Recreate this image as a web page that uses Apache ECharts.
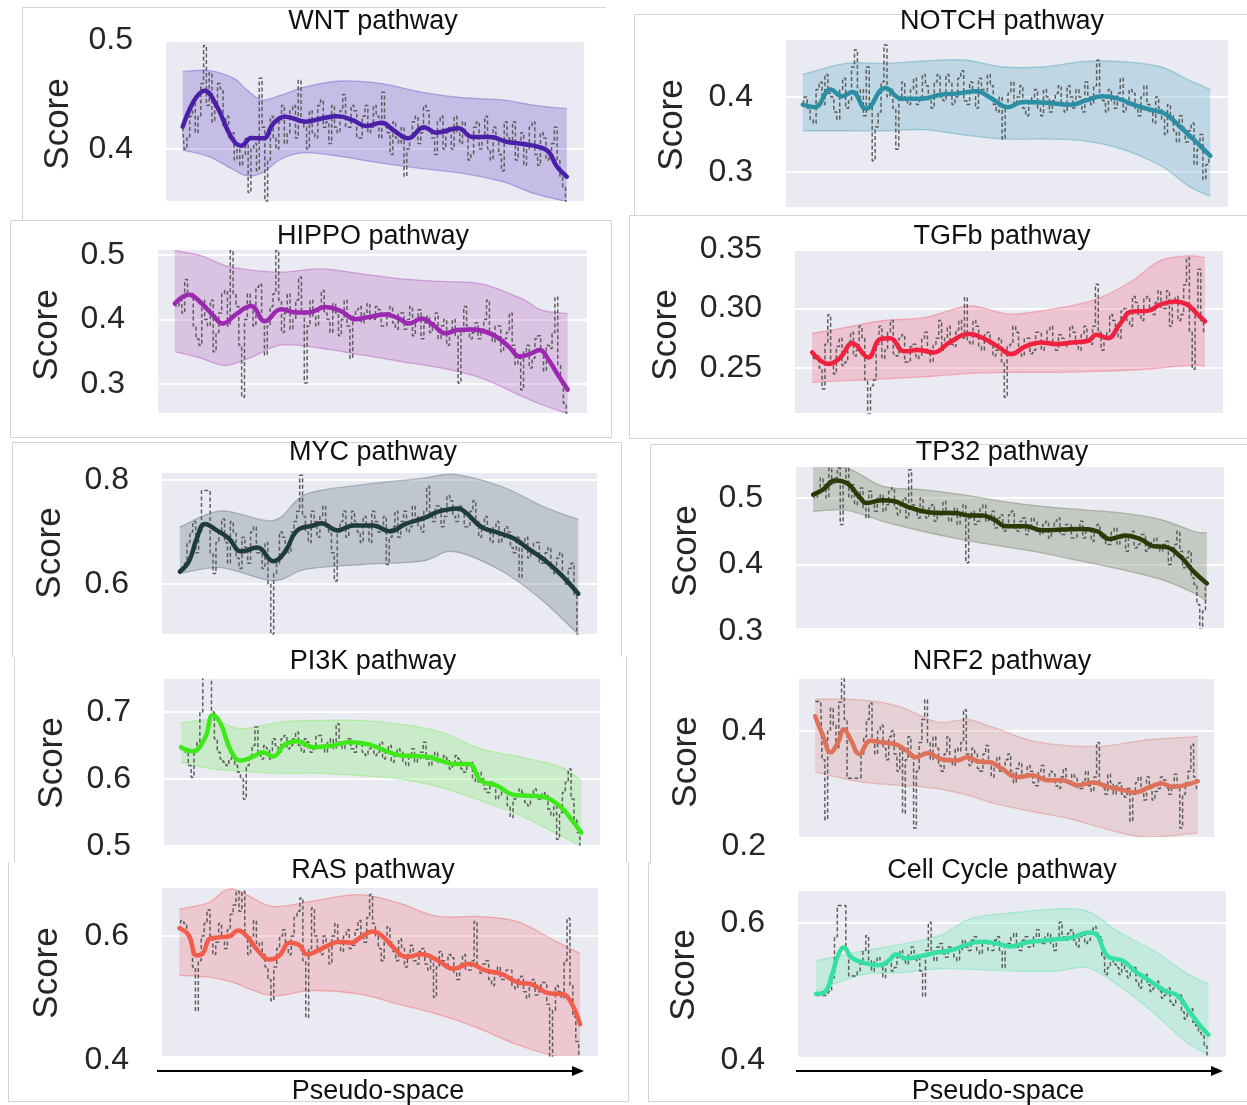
<!DOCTYPE html>
<html>
<head>
<meta charset="utf-8">
<title>Pathway scores along pseudo-space</title>
<script src="https://cdn.jsdelivr.net/npm/echarts@6/dist/echarts.min.js"></script>
<style>
  html, body { margin: 0; padding: 0; background: #ffffff; }
  #chart { width: 1247px; height: 1105px; }
</style>
</head>
<body>
<div id="chart"></div>
<script>
// ---------------- data ----------------
// mean curves: [pseudo-space %, score]; bands: [pseudo-space %, lower, upper]; raw scores: evenly spaced along the mean's span
const wntMean = [[4.0,0.4205],[9.3,0.4535],[12.2,0.439],[15.6,0.411],[18.0,0.403],[20.4,0.410],[23.3,0.4098],[25.7,0.4235],[28.6,0.4297],[33.4,0.425],[37.2,0.428],[41.1,0.430],[44.9,0.426],[47.8,0.421],[51.6,0.424],[54.5,0.417],[57.9,0.4098],[61.7,0.420],[64.6,0.415],[69.9,0.419],[73.3,0.411],[77.6,0.411],[81.4,0.4067],[85.3,0.4046],[89.1,0.402],[91.5,0.3976],[93.5,0.384],[95.9,0.3746]];
const wntBand = [[4.0,0.399,0.471],[10.3,0.393,0.472],[16.1,0.381,0.465],[19.4,0.3755,0.454],[23.0,0.378,0.445],[27.6,0.391,0.4495],[33.4,0.3966,0.457],[42.0,0.393,0.4624],[51.6,0.387,0.460],[61.3,0.382,0.452],[70.9,0.3777,0.447],[80.5,0.370,0.445],[88.2,0.359,0.440],[95.9,0.3517,0.437]];
const wntRaw = [
  0.42,0.40,0.41,0.43,0.445,0.415,0.43,0.46,0.495,0.44,
  0.47,0.425,0.44,0.46,0.455,0.42,0.43,0.41,0.415,0.39,
  0.40,0.385,0.395,0.41,0.36,0.40,0.405,0.38,0.465,0.42,
  0.352,0.39,0.43,0.41,0.40,0.425,0.44,0.405,0.415,0.435,
  0.44,0.41,0.463,0.425,0.42,0.40,0.435,0.415,0.41,0.44,
  0.445,0.42,0.425,0.405,0.44,0.42,0.415,0.435,0.45,0.42,
  0.42,0.44,0.435,0.41,0.41,0.43,0.44,0.415,0.42,0.44,
  0.43,0.41,0.452,0.42,0.415,0.395,0.425,0.41,0.405,0.42,
  0.375,0.40,0.41,0.425,0.43,0.405,0.415,0.44,0.435,0.415,
  0.41,0.395,0.425,0.43,0.40,0.415,0.42,0.40,0.43,0.415,
  0.405,0.425,0.415,0.39,0.395,0.42,0.425,0.40,0.41,0.43,
  0.40,0.39,0.42,0.41,0.395,0.38,0.425,0.41,0.405,0.425,
  0.39,0.405,0.415,0.385,0.40,0.42,0.425,0.395,0.385,0.415,
  0.41,0.39,0.395,0.405,0.42,0.39,0.375,0.365,0.352];

const notchMean = [[3.8,0.3897],[6.5,0.3865],[10.1,0.410],[12.7,0.401],[15.0,0.4067],[18.1,0.3843],[22.5,0.412],[26.1,0.3978],[30.5,0.3978],[35.0,0.403],[38.6,0.4045],[43.0,0.4076],[46.6,0.3978],[50.1,0.3865],[53.7,0.3933],[59.0,0.3924],[64.4,0.3897],[67.9,0.3955],[71.5,0.401],[75.1,0.3978],[78.6,0.3897],[83.1,0.382],[85.8,0.3776],[89.3,0.3596],[92.9,0.3395],[96.0,0.3215]];
const notchBand = [[3.8,0.355,0.430],[13.6,0.355,0.4448],[22.5,0.355,0.4448],[31.4,0.3565,0.448],[40.3,0.3493,0.4493],[49.2,0.344,0.440],[58.1,0.344,0.440],[67.1,0.3417,0.4471],[76.0,0.3305,0.4471],[84.9,0.308,0.440],[91.1,0.2812,0.4224],[96.0,0.2677,0.410]];
const notchRaw = [
  0.39,0.40,0.385,0.37,0.365,0.41,0.42,0.39,0.43,0.405,
  0.40,0.38,0.37,0.41,0.425,0.385,0.395,0.44,0.463,0.40,
  0.41,0.375,0.44,0.39,0.315,0.36,0.38,0.42,0.4695,0.40,
  0.41,0.385,0.3305,0.40,0.42,0.395,0.39,0.41,0.425,0.39,
  0.40,0.43,0.415,0.395,0.385,0.42,0.43,0.40,0.395,0.43,
  0.42,0.39,0.40,0.425,0.435,0.395,0.39,0.42,0.41,0.385,
  0.425,0.41,0.40,0.43,0.415,0.39,0.38,0.40,0.344,0.385,
  0.405,0.42,0.39,0.40,0.415,0.385,0.375,0.395,0.40,0.41,
  0.385,0.375,0.41,0.40,0.38,0.395,0.405,0.415,0.39,0.38,
  0.415,0.40,0.385,0.41,0.40,0.38,0.42,0.40,0.39,0.415,
  0.449,0.40,0.395,0.38,0.41,0.395,0.385,0.405,0.425,0.38,
  0.39,0.41,0.405,0.385,0.375,0.40,0.415,0.39,0.38,0.365,
  0.40,0.385,0.37,0.35,0.39,0.375,0.355,0.34,0.375,0.36,
  0.34,0.355,0.365,0.31,0.33,0.35,0.29,0.31,0.325];

const hippoMean = [[3.9,0.4246],[7.2,0.4385],[10.0,0.426],[12.8,0.4067],[15.1,0.3938],[18.4,0.4092],[21.7,0.421],[24.9,0.3974],[28.7,0.4159],[32.4,0.4108],[35.2,0.4108],[39.0,0.4195],[42.7,0.4128],[46.0,0.4005],[49.3,0.4041],[53.0,0.4077],[55.8,0.4026],[58.6,0.3938],[61.4,0.4015],[64.2,0.3913],[67.0,0.3785],[69.8,0.3836],[73.1,0.3846],[76.4,0.381],[79.2,0.3718],[82.0,0.3564],[84.3,0.3426],[86.6,0.3462],[89.0,0.3528],[90.8,0.340],[93.2,0.3144],[95.5,0.2913]];
const hippoBand = [[3.9,0.3503,0.5067],[10.0,0.34,0.499],[15.6,0.3287,0.4836],[21.3,0.34,0.4769],[28.7,0.3605,0.4733],[38.0,0.3554,0.4785],[47.4,0.3451,0.4708],[56.7,0.3349,0.4631],[66.1,0.3246,0.459],[75.4,0.3092,0.4554],[84.8,0.281,0.4323],[89.4,0.2682,0.4144],[95.5,0.2538,0.4092]];
const hippoRaw = [
  0.425,0.42,0.43,0.41,0.462,0.44,0.44,0.39,0.37,0.36,
  0.43,0.40,0.39,0.43,0.35,0.38,0.41,0.44,0.445,0.39,
  0.507,0.44,0.42,0.36,0.2795,0.40,0.44,0.42,0.39,0.45,
  0.455,0.40,0.345,0.39,0.42,0.44,0.507,0.43,0.38,0.41,
  0.44,0.385,0.40,0.43,0.4656,0.41,0.3015,0.39,0.43,0.405,
  0.39,0.42,0.445,0.41,0.40,0.38,0.425,0.41,0.375,0.40,
  0.43,0.39,0.34,0.405,0.415,0.42,0.395,0.41,0.425,0.40,
  0.40,0.42,0.415,0.39,0.39,0.41,0.42,0.395,0.385,0.41,
  0.41,0.385,0.40,0.42,0.375,0.40,0.415,0.37,0.395,0.405,
  0.38,0.395,0.41,0.37,0.39,0.40,0.36,0.385,0.40,0.375,
  0.3015,0.38,0.42,0.39,0.37,0.38,0.395,0.37,0.385,0.40,
  0.43,0.38,0.365,0.39,0.39,0.35,0.37,0.38,0.41,0.36,
  0.33,0.34,0.291,0.35,0.36,0.325,0.34,0.37,0.375,0.35,
  0.32,0.36,0.355,0.38,0.435,0.33,0.30,0.27,0.254];

const tgfbMean = [[4.0,0.2631],[7.9,0.2534],[10.6,0.2589],[13.4,0.2707],[17.1,0.2589],[19.9,0.2743],[22.2,0.2751],[25.5,0.264],[28.7,0.2651],[32.4,0.2631],[36.1,0.2715],[40.7,0.2785],[44.4,0.2743],[47.7,0.2673],[50.5,0.2617],[53.7,0.2679],[57.4,0.2715],[61.1,0.2701],[64.8,0.2715],[68.5,0.2729],[70.4,0.2779],[73.1,0.2751],[75.9,0.2869],[78.7,0.2975],[82.4,0.298],[85.2,0.3031],[88.9,0.3059],[91.7,0.3031],[94.0,0.2953],[95.8,0.2891]];
const tgfbBand = [[4.0,0.238,0.279],[12.0,0.2394,0.2841],[20.4,0.2408,0.2897],[30.6,0.2427,0.2925],[40.7,0.2455,0.3022],[50.0,0.2464,0.2953],[60.2,0.2464,0.2994],[70.4,0.2472,0.3078],[78.7,0.2483,0.3232],[85.2,0.25,0.34],[91.7,0.252,0.3441],[95.8,0.252,0.3427]];
const tgfbRaw = [
  0.265,0.258,0.26,0.25,0.2324,0.27,0.2947,0.255,0.245,0.268,
  0.275,0.252,0.255,0.272,0.28,0.26,0.265,0.285,0.275,0.24,
  0.2115,0.235,0.24,0.27,0.285,0.258,0.265,0.28,0.29,0.262,
  0.26,0.275,0.278,0.255,0.255,0.268,0.27,0.258,0.26,0.275,
  0.28,0.262,0.255,0.27,0.275,0.29,0.265,0.275,0.285,0.27,
  0.268,0.282,0.29,0.275,0.3092,0.272,0.27,0.29,0.285,0.268,
  0.265,0.278,0.28,0.27,0.26,0.265,0.275,0.255,0.2254,0.268,
  0.27,0.285,0.28,0.268,0.26,0.275,0.275,0.262,0.265,0.28,
  0.28,0.265,0.27,0.282,0.285,0.27,0.265,0.278,0.275,0.268,
  0.27,0.285,0.28,0.27,0.265,0.278,0.285,0.272,0.27,0.285,
  0.3204,0.28,0.265,0.275,0.28,0.295,0.29,0.285,0.275,0.298,
  0.30,0.29,0.285,0.31,0.305,0.295,0.29,0.308,0.31,0.298,
  0.295,0.305,0.315,0.30,0.30,0.315,0.285,0.305,0.31,0.29,
  0.295,0.32,0.3427,0.28,0.249,0.30,0.333,0.29,0.28];

const mycMean = [[4.1,0.6238],[6.2,0.6438],[8.0,0.6875],[9.9,0.7156],[12.6,0.7031],[15.4,0.6875],[18.2,0.6625],[21.9,0.67],[25.6,0.6438],[28.3,0.6625],[31.1,0.7031],[34.8,0.7125],[36.6,0.7169],[40.3,0.7031],[44.0,0.7125],[48.6,0.7125],[52.3,0.7013],[56.0,0.7156],[60.6,0.7281],[63.4,0.7388],[68.0,0.745],[69.8,0.7375],[73.5,0.7094],[77.2,0.6988],[80.9,0.6875],[84.6,0.6656],[88.3,0.6438],[92.0,0.6156],[95.7,0.5813]];
const mycBand = [[4.1,0.62,0.7094],[13.6,0.6313,0.7406],[25.6,0.6063,0.7219],[32.9,0.6281,0.7719],[45.8,0.6375,0.7906],[59.7,0.6438,0.8031],[67.1,0.6625,0.811],[78.1,0.625,0.7875],[87.4,0.5688,0.75],[95.7,0.5031,0.7238]];
const mycRaw = [
  0.62,0.625,0.64,0.68,0.70,0.72,0.66,0.70,0.78,0.78,
  0.78,0.66,0.62,0.68,0.70,0.725,0.68,0.64,0.72,0.70,
  0.65,0.63,0.69,0.67,0.64,0.70,0.71,0.66,0.66,0.63,
  0.68,0.60,0.503,0.62,0.64,0.70,0.69,0.67,0.66,0.70,
  0.72,0.74,0.809,0.73,0.70,0.68,0.74,0.72,0.69,0.73,
  0.75,0.71,0.70,0.66,0.606,0.70,0.72,0.74,0.69,0.71,
  0.74,0.72,0.70,0.68,0.73,0.71,0.68,0.74,0.72,0.70,
  0.70,0.73,0.6375,0.69,0.71,0.74,0.69,0.72,0.74,0.70,
  0.71,0.75,0.73,0.71,0.70,0.74,0.7875,0.73,0.72,0.75,
  0.75,0.71,0.73,0.77,0.76,0.73,0.72,0.75,0.74,0.71,
  0.71,0.74,0.76,0.72,0.69,0.71,0.73,0.70,0.68,0.71,
  0.72,0.68,0.69,0.71,0.70,0.67,0.66,0.69,0.6125,0.67,
  0.69,0.65,0.66,0.68,0.68,0.64,0.64,0.66,0.67,0.63,
  0.62,0.65,0.66,0.61,0.60,0.63,0.64,0.58,0.503];

const tp32Mean = [[4.0,0.505],[6.3,0.5125],[9.1,0.5265],[11.9,0.5225],[14.7,0.5025],[16.5,0.4925],[20.3,0.4965],[23.0,0.495],[25.8,0.4875],[29.6,0.48],[33.3,0.4775],[37.0,0.4775],[40.7,0.4735],[43.5,0.4735],[46.3,0.4675],[49.1,0.4575],[53.7,0.4575],[57.4,0.4515],[62.1,0.4525],[66.7,0.4535],[70.4,0.45],[73.2,0.4385],[77.0,0.4435],[80.7,0.4375],[83.5,0.4275],[86.2,0.4265],[89.9,0.4115],[92.8,0.39],[96.0,0.3715]];
const tp32Band = [[4.0,0.48,0.5475],[11.9,0.4815,0.545],[20.3,0.465,0.5175],[29.6,0.45,0.5125],[38.8,0.4375,0.505],[48.1,0.4275,0.495],[57.4,0.4175,0.4875],[66.7,0.405,0.4825],[76.0,0.3925,0.4775],[85.3,0.3775,0.4675],[92.8,0.3575,0.45],[96.0,0.345,0.4475]];
const tp32Raw = [
  0.505,0.50,0.51,0.53,0.52,0.50,0.545,0.52,0.53,0.545,
  0.46,0.52,0.545,0.50,0.52,0.49,0.50,0.515,0.485,0.47,
  0.51,0.495,0.48,0.50,0.505,0.48,0.49,0.51,0.515,0.485,
  0.475,0.49,0.50,0.47,0.5425,0.49,0.485,0.47,0.50,0.48,
  0.47,0.485,0.49,0.465,0.48,0.475,0.495,0.48,0.465,0.475,
  0.485,0.46,0.475,0.49,0.4025,0.47,0.48,0.46,0.465,0.485,
  0.49,0.465,0.47,0.48,0.455,0.47,0.475,0.45,0.46,0.475,
  0.48,0.455,0.45,0.465,0.47,0.445,0.455,0.47,0.465,0.45,
  0.445,0.46,0.465,0.44,0.45,0.465,0.47,0.445,0.445,0.46,
  0.46,0.44,0.44,0.455,0.465,0.44,0.45,0.455,0.435,0.45,
  0.46,0.44,0.445,0.43,0.43,0.45,0.455,0.43,0.44,0.445,
  0.42,0.44,0.45,0.425,0.43,0.445,0.445,0.42,0.425,0.435,
  0.44,0.425,0.42,0.43,0.435,0.40,0.41,0.43,0.45,0.42,
  0.395,0.41,0.42,0.38,0.37,0.34,0.3025,0.33,0.37];

const pi3kMean = [[3.9,0.6475],[6.6,0.6415],[9.4,0.6615],[11.2,0.695],[13.0,0.6825],[15.3,0.6425],[17.6,0.6275],[20.4,0.6335],[22.7,0.64],[25.0,0.6335],[27.7,0.6515],[30.5,0.6565],[34.2,0.6475],[38.8,0.65],[42.4,0.655],[47.0,0.6515],[50.7,0.6425],[54.4,0.635],[59.9,0.6335],[63.5,0.6275],[66.3,0.6225],[69.9,0.6225],[72.7,0.5975],[76.4,0.59],[80.1,0.5765],[83.7,0.575],[87.4,0.5725],[91.1,0.5575],[93.4,0.54],[95.7,0.52]];
const pi3kBand = [[3.9,0.625,0.6835],[11.2,0.615,0.6885],[17.6,0.6115,0.675],[26.8,0.6085,0.685],[36.0,0.6085,0.6875],[45.2,0.605,0.6875],[54.4,0.6,0.6815],[63.5,0.5875,0.67],[72.7,0.5675,0.645],[81.9,0.545,0.6325],[91.1,0.515,0.6175],[95.7,0.50,0.5975]];
const pi3kRaw = [
  0.65,0.645,0.64,0.62,0.6025,0.64,0.655,0.70,0.76,0.76,
  0.76,0.70,0.66,0.64,0.63,0.625,0.62,0.63,0.64,0.62,
  0.61,0.60,0.57,0.62,0.635,0.65,0.6775,0.64,0.63,0.65,
  0.645,0.63,0.66,0.65,0.64,0.66,0.665,0.645,0.65,0.66,
  0.67,0.65,0.64,0.66,0.655,0.64,0.645,0.665,0.665,0.65,
  0.64,0.655,0.66,0.645,0.6825,0.65,0.645,0.655,0.66,0.645,
  0.64,0.65,0.655,0.64,0.635,0.645,0.65,0.635,0.64,0.655,
  0.63,0.64,0.65,0.625,0.635,0.645,0.64,0.625,0.62,0.635,
  0.645,0.625,0.63,0.64,0.655,0.63,0.62,0.635,0.64,0.625,
  0.625,0.635,0.63,0.615,0.62,0.635,0.63,0.615,0.61,0.62,
  0.625,0.60,0.595,0.61,0.60,0.585,0.58,0.595,0.59,0.57,
  0.575,0.585,0.58,0.56,0.5425,0.57,0.575,0.585,0.58,0.565,
  0.56,0.575,0.585,0.57,0.57,0.58,0.575,0.555,0.545,0.56,
  0.51,0.55,0.58,0.595,0.615,0.57,0.54,0.52,0.50];

const nrf2Mean = [[3.9,0.4257],[5.8,0.3914],[7.6,0.3629],[9.4,0.38],[10.8,0.4029],[12.6,0.3829],[14.5,0.36],[17.2,0.3829],[20.4,0.38],[23.2,0.3771],[25.9,0.3657],[28.2,0.3543],[31.0,0.3617],[34.2,0.3514],[37.9,0.3486],[40.6,0.3543],[43.4,0.3469],[46.1,0.3457],[48.9,0.3343],[52.5,0.32],[56.2,0.3229],[59.9,0.3143],[63.5,0.3143],[67.2,0.3057],[70.9,0.3103],[74.5,0.3029],[78.2,0.2971],[80.9,0.2931],[84.6,0.3029],[87.4,0.3086],[90.1,0.3029],[92.9,0.3057],[96.1,0.3126]];
const nrf2Band = [[3.9,0.3286,0.4554],[14.9,0.3114,0.4543],[24.1,0.3057,0.4429],[33.3,0.30,0.4154],[40.6,0.2886,0.42],[47.0,0.2743,0.4057],[56.2,0.26,0.3829],[65.4,0.2474,0.3743],[74.5,0.2286,0.3743],[83.7,0.2154,0.3846],[96.1,0.2229,0.3903]];
const nrf2Raw = [
  0.4514,0.4514,0.4514,0.35,0.2457,0.40,0.44,0.41,0.37,0.45,
  0.50,0.42,0.318,0.318,0.318,0.318,0.318,0.36,0.39,0.42,
  0.4486,0.38,0.36,0.40,0.41,0.37,0.35,0.39,0.40,0.36,
  0.33,0.37,0.2571,0.35,0.39,0.36,0.2314,0.33,0.38,0.42,
  0.4543,0.38,0.35,0.39,0.37,0.34,0.33,0.36,0.39,0.35,
  0.34,0.37,0.365,0.38,0.4371,0.36,0.34,0.37,0.36,0.335,
  0.33,0.36,0.375,0.345,0.32,0.34,0.355,0.33,0.335,0.35,
  0.36,0.33,0.31,0.335,0.345,0.32,0.32,0.34,0.33,0.31,
  0.305,0.33,0.34,0.315,0.315,0.33,0.325,0.305,0.30,0.32,
  0.335,0.31,0.31,0.325,0.32,0.30,0.30,0.315,0.33,0.305,
  0.295,0.32,0.38,0.31,0.30,0.29,0.325,0.31,0.29,0.305,
  0.31,0.29,0.285,0.30,0.2429,0.29,0.31,0.32,0.295,0.28,
  0.32,0.30,0.28,0.295,0.30,0.32,0.315,0.30,0.29,0.305,
  0.325,0.30,0.2314,0.29,0.31,0.33,0.3771,0.32,0.30];

const rasMean = [[4.0,0.6125],[6.1,0.6016],[7.9,0.569],[9.3,0.5717],[11.1,0.5962],[13.3,0.5978],[15.6,0.60],[17.4,0.6087],[19.7,0.5978],[21.9,0.5772],[24.7,0.562],[27.0,0.569],[29.2,0.5891],[31.5,0.5853],[33.3,0.5701],[35.1,0.5745],[37.8,0.5837],[40.6,0.5908],[43.3,0.5891],[46.0,0.60],[48.3,0.6071],[50.5,0.60],[53.3,0.5799],[56.0,0.5663],[59.6,0.5707],[63.2,0.5609],[66.9,0.5473],[70.5,0.5554],[74.1,0.5446],[77.8,0.5391],[81.4,0.5255],[85.0,0.5217],[88.7,0.5076],[91.8,0.5065],[93.6,0.4957],[95.9,0.4576]];
const rasBand = [[4.0,0.5364,0.6435],[10.6,0.5337,0.6533],[16.1,0.5255,0.6761],[25.1,0.5038,0.6478],[34.2,0.512,0.656],[45.1,0.5065,0.6668],[54.2,0.4902,0.6533],[63.2,0.4739,0.6315],[72.3,0.4522,0.6315],[81.4,0.425,0.6234],[90.5,0.406,0.5908],[95.9,0.4033,0.5717]];
const rasRaw = [
  0.61,0.625,0.62,0.60,0.59,0.55,0.4793,0.56,0.60,0.62,
  0.6424,0.60,0.57,0.59,0.62,0.60,0.58,0.61,0.635,0.65,
  0.6723,0.64,0.6723,0.60,0.57,0.60,0.625,0.58,0.59,0.57,
  0.55,0.53,0.4957,0.55,0.58,0.60,0.61,0.58,0.57,0.60,
  0.63,0.64,0.6614,0.56,0.4685,0.58,0.6451,0.60,0.58,0.57,
  0.60,0.58,0.555,0.60,0.62,0.59,0.575,0.60,0.61,0.58,
  0.585,0.61,0.625,0.60,0.59,0.63,0.6668,0.62,0.60,0.58,
  0.56,0.59,0.615,0.59,0.575,0.56,0.595,0.58,0.55,0.57,
  0.585,0.56,0.555,0.575,0.58,0.555,0.545,0.565,0.5011,0.55,
  0.575,0.56,0.55,0.57,0.565,0.54,0.53,0.555,0.57,0.545,
  0.545,0.56,0.6234,0.55,0.54,0.555,0.56,0.53,0.52,0.545,
  0.55,0.53,0.53,0.545,0.545,0.52,0.515,0.53,0.535,0.51,
  0.50,0.52,0.53,0.505,0.51,0.525,0.525,0.49,0.4033,0.48,
  0.52,0.51,0.50,0.56,0.6288,0.52,0.47,0.43,0.4033];

const cellMean = [[4.2,0.4966],[6.2,0.499],[8.0,0.525],[9.3,0.552],[10.7,0.5642],[12.5,0.5495],[15.2,0.5422],[18.9,0.5382],[21.1,0.5446],[23.0,0.5544],[25.2,0.548],[28.8,0.552],[32.5,0.5569],[36.1,0.5608],[39.7,0.5691],[42.4,0.5725],[46.1,0.5706],[49.7,0.5657],[53.3,0.5716],[56.9,0.574],[60.6,0.5765],[64.2,0.5789],[67.8,0.5863],[69.6,0.5838],[72.3,0.552],[76.0,0.5446],[78.7,0.5299],[82.3,0.5152],[85.9,0.5005],[88.7,0.4941],[91.4,0.4711],[94.1,0.449],[95.9,0.4368]];
const cellBand = [[4.2,0.5005,0.5446],[15.2,0.525,0.5593],[24.3,0.5275,0.569],[33.4,0.5333,0.5824],[40.6,0.5324,0.6069],[51.5,0.5299,0.6157],[60.6,0.5299,0.6206],[67.8,0.5348,0.6167],[75.1,0.5078,0.5863],[83.2,0.4686,0.5593],[90.5,0.427,0.5275],[95.9,0.4074,0.5103]];
const cellRaw = [
  0.4941,0.4941,0.4941,0.4941,0.4941,0.50,0.52,0.58,0.6255,0.6255,
  0.6255,0.56,0.5225,0.5225,0.5225,0.53,0.54,0.56,0.5814,0.545,
  0.53,0.545,0.55,0.535,0.52,0.54,0.545,0.53,0.535,0.55,
  0.56,0.545,0.54,0.555,0.565,0.545,0.55,0.53,0.4931,0.56,
  0.601,0.56,0.545,0.565,0.57,0.555,0.55,0.565,0.565,0.55,
  0.545,0.56,0.575,0.565,0.56,0.575,0.58,0.56,0.555,0.57,
  0.575,0.56,0.56,0.575,0.58,0.56,0.5348,0.565,0.57,0.58,
  0.585,0.565,0.56,0.575,0.58,0.565,0.565,0.58,0.59,0.575,
  0.57,0.58,0.585,0.57,0.56,0.575,0.601,0.58,0.575,0.585,
  0.59,0.575,0.565,0.58,0.585,0.57,0.575,0.59,0.595,0.585,
  0.58,0.55,0.525,0.535,0.55,0.54,0.535,0.525,0.545,0.53,
  0.52,0.53,0.535,0.515,0.505,0.52,0.525,0.51,0.50,0.505,
  0.515,0.50,0.49,0.495,0.505,0.485,0.48,0.49,0.495,0.47,
  0.46,0.47,0.475,0.455,0.45,0.44,0.435,0.42,0.4074];

// ---------------- panels: data + layout + colours ----------------
const panels = [
  { title: 'WNT pathway', mean: wntMean, band: wntBand, raw: wntRaw,
    line: '#4b1fa8', fill: 'rgba(135,110,210,0.36)', edge: 'rgba(135,110,210,0.55)',
    plot: [166, 42, 584, 201], lo: [0.4, 149], hi: [0.5, 40], step: 0.1, dec: 1, titlePos: [373, 22], scorePos: [58, 124] },
  { title: 'NOTCH pathway', mean: notchMean, band: notchBand, raw: notchRaw,
    line: '#2b8ea3', fill: 'rgba(120,185,205,0.38)', edge: 'rgba(110,180,200,0.6)',
    plot: [786, 40, 1228, 207], lo: [0.3, 172], hi: [0.4, 97], step: 0.1, dec: 1, titlePos: [1002, 22], scorePos: [672, 125] },
  { title: 'HIPPO pathway', mean: hippoMean, band: hippoBand, raw: hippoRaw,
    line: '#9c27b0', fill: 'rgba(190,120,200,0.35)', edge: 'rgba(190,110,200,0.55)',
    plot: [158, 250, 587, 413], lo: [0.3, 384], hi: [0.5, 255], step: 0.1, dec: 1, titlePos: [373, 237], scorePos: [47, 335] },
  { title: 'TGFb pathway', mean: tgfbMean, band: tgfbBand, raw: tgfbRaw,
    line: '#f0203f', fill: 'rgba(240,140,160,0.4)', edge: 'rgba(240,130,150,0.6)',
    plot: [795, 251, 1223, 413], lo: [0.25, 368], hi: [0.35, 249], step: 0.05, dec: 2, titlePos: [1002, 237], scorePos: [666, 335] },
  { title: 'MYC pathway', mean: mycMean, band: mycBand, raw: mycRaw,
    line: '#1e3b3e', fill: 'rgba(130,145,155,0.4)', edge: 'rgba(120,135,145,0.55)',
    plot: [162, 473, 597, 634], lo: [0.6, 584], hi: [0.8, 480], step: 0.2, dec: 1, titlePos: [373, 453], scorePos: [50, 553] },
  { title: 'TP32 pathway', mean: tp32Mean, band: tp32Band, raw: tp32Raw,
    line: '#2b3a06', fill: 'rgba(145,155,130,0.42)', edge: 'rgba(140,150,125,0.6)',
    plot: [796, 467, 1224, 628], lo: [0.3, 631], hi: [0.5, 498], step: 0.1, dec: 1, titlePos: [1002, 453], scorePos: [686, 551] },
  { title: 'PI3K pathway', mean: pi3kMean, band: pi3kBand, raw: pi3kRaw,
    line: '#3fe81a', fill: 'rgba(165,238,150,0.45)', edge: 'rgba(150,235,130,0.6)',
    plot: [164, 679, 600, 845], lo: [0.5, 846], hi: [0.7, 712], step: 0.1, dec: 1, titlePos: [373, 662], scorePos: [52, 763] },
  { title: 'NRF2 pathway', mean: nrf2Mean, band: nrf2Band, raw: nrf2Raw,
    line: '#dd7159', fill: 'rgba(220,160,160,0.35)', edge: 'rgba(225,150,140,0.55)',
    plot: [799, 679, 1214, 837], lo: [0.2, 846], hi: [0.4, 731], step: 0.2, dec: 1, titlePos: [1002, 662], scorePos: [686, 762] },
  { title: 'RAS pathway', mean: rasMean, band: rasBand, raw: rasRaw,
    line: '#f25c4a', fill: 'rgba(240,150,160,0.4)', edge: 'rgba(240,130,130,0.6)',
    plot: [162, 888, 598, 1056], lo: [0.4, 1060], hi: [0.6, 936], step: 0.2, dec: 1, titlePos: [373, 871], scorePos: [47, 973] },
  { title: 'Cell Cycle pathway', mean: cellMean, band: cellBand, raw: cellRaw,
    line: '#35e0a0', fill: 'rgba(150,235,200,0.45)', edge: 'rgba(130,230,190,0.6)',
    plot: [798, 891, 1226, 1057], lo: [0.4, 1060], hi: [0.6, 923], step: 0.2, dec: 1, titlePos: [1002, 871], scorePos: [684, 975] }
];

const FONT = '"Liberation Sans", Arial, Helvetica, sans-serif';
const GRID_BG = '#EAEAF2';

// cubic segments of a Catmull-Rom curve through pixel points
function curveSegments(pts) {
  let d = '';
  for (let i = 0; i < pts.length - 1; i++) {
    const p0 = pts[i - 1] || pts[i], p1 = pts[i], p2 = pts[i + 1], p3 = pts[i + 2] || pts[i + 1];
    const c1x = p1[0] + (p2[0] - p0[0]) / 6, c1y = p1[1] + (p2[1] - p0[1]) / 6;
    const c2x = p2[0] - (p3[0] - p1[0]) / 6, c2y = p2[1] - (p3[1] - p1[1]) / 6;
    d += ' C' + c1x.toFixed(2) + ' ' + c1y.toFixed(2) + ' ' + c2x.toFixed(2) + ' ' + c2y.toFixed(2) + ' ' + p2[0].toFixed(2) + ' ' + p2[1].toFixed(2);
  }
  return d;
}
function moveTo(p) { return 'M' + p[0].toFixed(2) + ' ' + p[1].toFixed(2); }

const grids = [], xAxes = [], yAxes = [], series = [], graphics = [];

panels.forEach(function (p, k) {
  const [l, t, r, b] = p.plot;
  const pxPerUnit = (p.lo[1] - p.hi[1]) / (p.hi[0] - p.lo[0]);
  const yMax = p.hi[0] + (p.hi[1] - t) / pxPerUnit;
  const yMin = p.lo[0] - (b - p.lo[1]) / pxPerUnit;

  // plot area (background + data)
  grids.push({ left: l, top: t, width: r - l, height: b - t, show: true, backgroundColor: GRID_BG, borderWidth: 0, containLabel: false, outerBoundsMode: 'none' });
  // tick scale (labels + white grid lines), spanning the outer ticks
  grids.push({ left: l, top: p.hi[1], width: r - l, height: p.lo[1] - p.hi[1], show: false, containLabel: false, outerBoundsMode: 'none' });

  const gPlot = 2 * k, gTick = 2 * k + 1;
  xAxes.push({ type: 'value', gridIndex: gPlot, min: 0, max: 100, show: false });
  xAxes.push({ type: 'value', gridIndex: gTick, min: 0, max: 100, show: false });
  yAxes.push({ type: 'value', gridIndex: gPlot, min: yMin, max: yMax, show: false, splitLine: { show: false } });
  yAxes.push({
    type: 'value', gridIndex: gTick, min: p.lo[0], max: p.hi[0], interval: p.step,
    axisLine: { show: false }, axisTick: { show: false },
    splitLine: { show: true, lineStyle: { color: '#ffffff', width: 2 } },
    axisLabel: {
      show: true, margin: 33, fontSize: 32, color: '#262626', fontFamily: FONT,
      showMinLabel: true, showMaxLabel: true,
      formatter: function (v) { return Number(v).toFixed(p.dec); }
    }
  });

  // confidence band
  const band = p.band;
  series.push({
    type: 'custom', xAxisIndex: gPlot, yAxisIndex: gPlot, clip: true, silent: true, z: 2,
    data: band.map(function (d) { return [d[0], d[1], d[2]]; }),
    encode: { x: 0, y: [1, 2] },
    renderItem: function (params, api) {
      if (params.dataIndex !== 0) return null;
      const up = band.map(function (d) { return api.coord([d[0], d[2]]); });
      const low = band.map(function (d) { return api.coord([d[0], d[1]]); });
      const lowRev = low.slice().reverse();
      const fillPath = moveTo(up[0]) + curveSegments(up) + ' L' + lowRev[0][0].toFixed(2) + ' ' + lowRev[0][1].toFixed(2) + curveSegments(lowRev) + ' Z';
      return {
        type: 'group',
        children: [
          { type: 'path', shape: { pathData: fillPath }, style: { fill: p.fill, stroke: null } },
          { type: 'path', shape: { pathData: moveTo(up[0]) + curveSegments(up) }, style: { fill: null, stroke: p.edge, lineWidth: 1.3 } },
          { type: 'path', shape: { pathData: moveTo(low[0]) + curveSegments(low) }, style: { fill: null, stroke: p.edge, lineWidth: 1.3 } }
        ]
      };
    }
  });

  // raw scores (dashed step trace), evenly spaced over the mean's span
  const x0 = p.mean[0][0], x1 = p.mean[p.mean.length - 1][0];
  const n = p.raw.length;
  series.push({
    type: 'line', xAxisIndex: gPlot, yAxisIndex: gPlot, silent: true, z: 3,
    step: 'middle', symbol: 'none', animation: false,
    data: p.raw.map(function (v, i) { return [x0 + i * (x1 - x0) / (n - 1), v]; }),
    lineStyle: { color: '#5e5e5e', width: 1.5, type: [4, 2.5] }
  });

  // smoothed mean
  series.push({
    type: 'line', xAxisIndex: gPlot, yAxisIndex: gPlot, silent: true, z: 4,
    smooth: 0.45, symbol: 'none', animation: false,
    data: p.mean,
    lineStyle: { color: p.line, width: 4.5, cap: 'round', join: 'round' }
  });

  // panel title and y-axis name
  graphics.push({
    type: 'text', x: p.titlePos[0], y: p.titlePos[1], z: 10,
    style: { text: p.title, font: '27px ' + FONT, fill: '#111111', align: 'center', verticalAlign: 'middle', textAlign: 'center', textVerticalAlign: 'middle' }
  });
  graphics.push({
    type: 'text', x: p.scorePos[0], y: p.scorePos[1], rotation: Math.PI / 2, z: 10,
    style: { text: 'Score', font: '35px ' + FONT, fill: '#262626', align: 'center', verticalAlign: 'middle', textAlign: 'center', textVerticalAlign: 'middle' }
  });
});

// pseudo-space arrows under the bottom panels
[[157, 584, 1071, 378], [796, 1223, 1071, 998]].forEach(function (a) {
  graphics.push({ type: 'line', shape: { x1: a[0], y1: a[2], x2: a[1] - 8, y2: a[2] }, style: { stroke: '#000000', lineWidth: 2 }, z: 10 });
  graphics.push({ type: 'polygon', shape: { points: [[a[1], a[2]], [a[1] - 12, a[2] - 5], [a[1] - 12, a[2] + 5]] }, style: { fill: '#000000' }, z: 10 });
  graphics.push({
    type: 'text', x: a[3], y: 1092, z: 10,
    style: { text: 'Pseudo-space', font: '27px ' + FONT, fill: '#111111', align: 'center', verticalAlign: 'middle', textAlign: 'center', textVerticalAlign: 'middle' }
  });
});

// thin frames around each panel
const frameStyle = { stroke: '#d4d4d4', lineWidth: 1, fill: null };
[
  [[22.5, 220], [22.5, 7.5], [606, 7.5]],
  [[634.5, 215], [634.5, 14.5], [1247, 14.5]],
  [[10.5, 220.5], [611.5, 220.5], [611.5, 437.5], [10.5, 437.5], [10.5, 220.5]],
  [[629.5, 215.5], [1247, 215.5]],
  [[629.5, 215.5], [629.5, 438.5], [1247, 438.5]],
  [[12.5, 657], [12.5, 442.5], [621.5, 442.5], [621.5, 657]],
  [[650.5, 657], [650.5, 444.5], [1247, 444.5]],
  [[14.5, 862], [14.5, 657]],
  [[626.5, 657], [626.5, 862]],
  [[650.5, 650], [650.5, 865]],
  [[8.5, 862], [8.5, 1101.5], [628.5, 1101.5], [628.5, 862]],
  [[648.5, 862], [648.5, 1101.5], [1247, 1101.5]]
].forEach(function (pts) {
  graphics.push({ type: 'polyline', shape: { points: pts }, style: frameStyle, z: 0, silent: true });
});

const chart = echarts.init(document.getElementById('chart'), null, { renderer: 'canvas', width: 1247, height: 1105 });
chart.setOption({
  backgroundColor: '#ffffff',
  animation: false,
  grid: grids,
  xAxis: xAxes,
  yAxis: yAxes,
  series: series,
  graphic: graphics
});
</script>
</body>
</html>
